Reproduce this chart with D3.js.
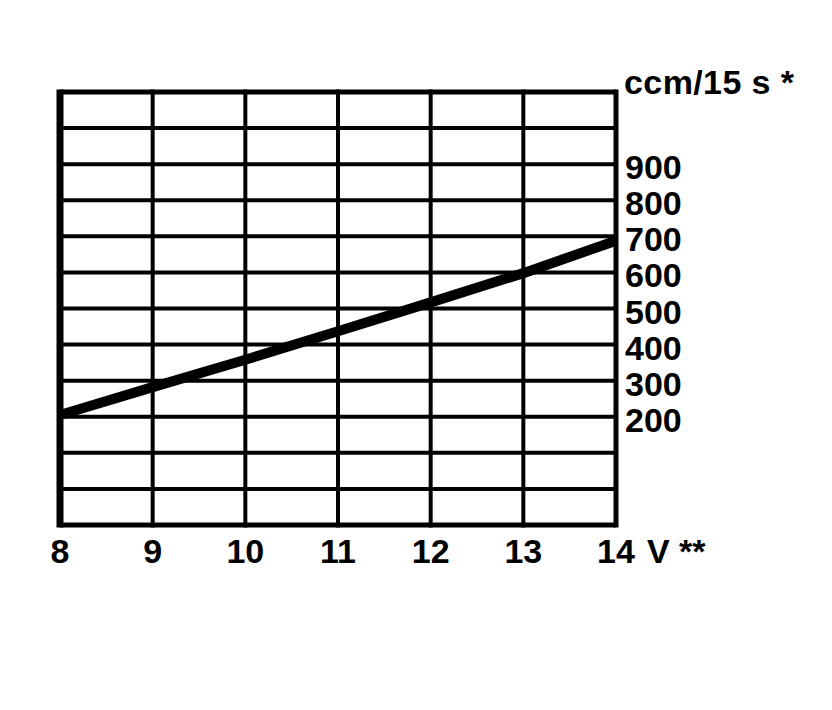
<!DOCTYPE html>
<html><head><meta charset="utf-8">
<script src="https://cdn.jsdelivr.net/npm/d3@7"></script>
<style>body{margin:0;background:#fff}svg{display:block}text{font-family:"Liberation Sans",Arial,sans-serif;font-weight:bold;fill:#000}</style>
</head><body><div id="chart"></div>
<script>
const voltage = [8, 9, 10, 11, 12, 13, 14];
const flow = [205, 282, 358, 437, 517, 598, 688];
const xTickLabels = ["8", "9", "10", "11", "12", "13", "14"];
const yTicks = [200, 300, 400, 500, 600, 700, 800, 900];
const yGrid = d3.range(-100, 1101, 100);
const xUnit = "V **";
const yUnit = "ccm/15 s *";

const W = 832, H = 710;
const svg = d3.select("#chart").append("svg").attr("width", W).attr("height", H);
const x = d3.scaleLinear().domain([8, 14]).range([60, 616]);
const y = d3.scaleLinear().domain([-100, 1100]).range([525, 92]);

// grid
svg.append("g").selectAll("line").data(yGrid).join("line")
  .attr("x1", x(8)).attr("x2", x(14))
  .attr("y1", d => y(d)).attr("y2", d => y(d))
  .attr("stroke", "#000").attr("stroke-width", d => (d === -100 || d === 1100) ? 5 : 4);
svg.append("g").selectAll("line").data(voltage).join("line")
  .attr("x1", d => x(d)).attr("x2", d => x(d))
  .attr("y1", y(1100) - 2.5).attr("y2", y(-100) + 2.5)
  .attr("stroke", "#000").attr("stroke-width", d => d === 8 ? 7 : (d === 14 ? 5 : 4));

// curve
const pts = voltage.map((v, i) => [v, flow[i]]);
svg.append("path").datum(pts)
  .attr("d", d3.line().x(d => x(d[0])).y(d => y(d[1])))
  .attr("fill", "none").attr("stroke", "#000").attr("stroke-width", 10);

// x labels
svg.append("g").selectAll("text").data(voltage).join("text")
  .attr("x", d => x(d)).attr("y", 563)
  .attr("text-anchor", "middle").attr("font-size", 34)
  .text((d, i) => xTickLabels[i]);
svg.append("text").attr("x", x(14) + 31).attr("y", 563)
  .attr("font-size", 34).text(xUnit);

// y labels
svg.append("g").selectAll("text").data(yTicks).join("text")
  .attr("x", 625).attr("y", d => y(d) + 15)
  .attr("font-size", 34).text(d => d);
svg.append("text").attr("x", 624).attr("y", 94)
  .attr("font-size", 34).attr("textLength", 170).attr("lengthAdjust", "spacing").text(yUnit);
</script></body></html>
